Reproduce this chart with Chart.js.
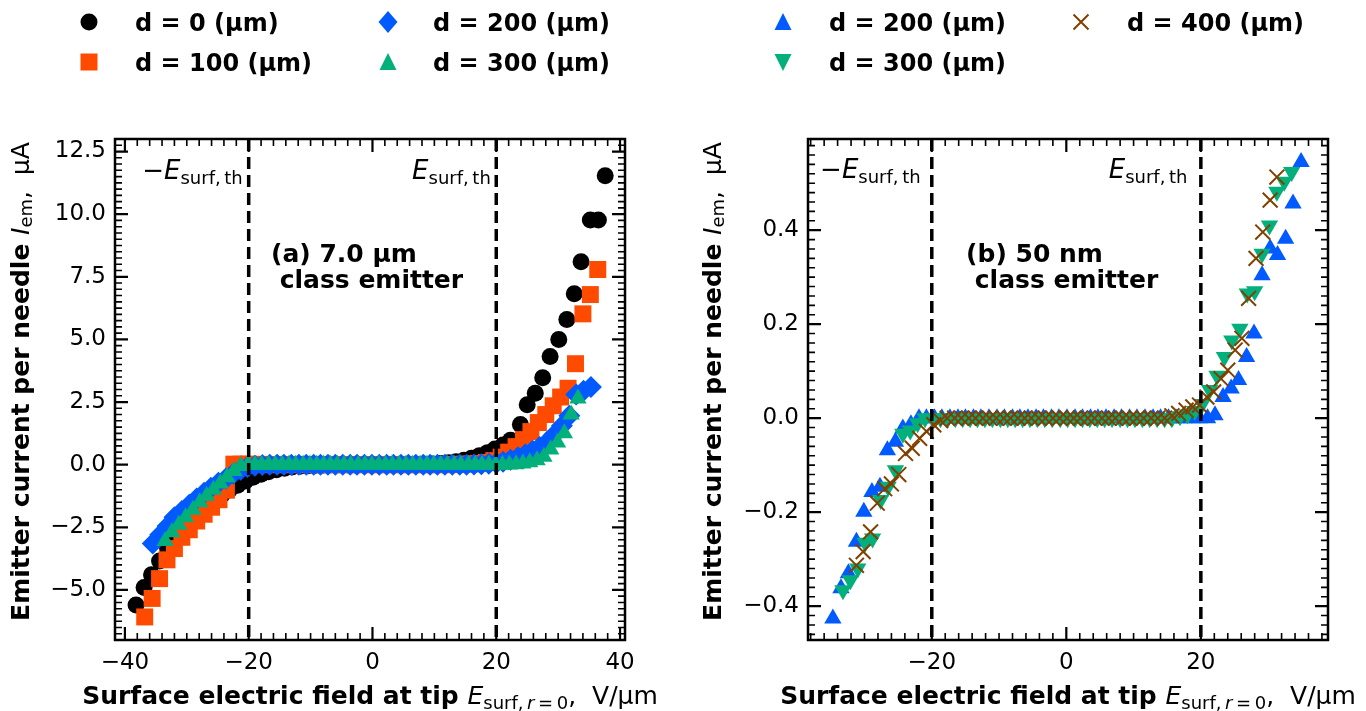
<!DOCTYPE html>
<html>
<head>
<meta charset="utf-8">
<script src="https://cdn.jsdelivr.net/npm/chart.js@4.4.0/dist/chart.umd.min.js"></script>
<style>
  html, body { margin: 0; padding: 0; background: #fff; }
  #wrap { position: relative; width: 1366px; height: 711px; overflow: hidden; }
  #wrap canvas { position: absolute; top: 0; }
  .mk { position: absolute; }
  .lt { position: absolute; font: bold 24px "DejaVu Sans"; white-space: nowrap; line-height: 1; transform: translateY(-50%); color: #000; }
</style>
</head>
<body>
<div id="wrap">
  <canvas id="left" width="683" height="711" style="left:0"></canvas>
  <canvas id="right" width="683" height="711" style="left:683px"></canvas>
  <div id="legend"></div>
</div>
<script>
// ---- axis ticks / reference lines ----
const xLeftTicks  = [-40, -20, 0, 20, 40];
const yLeftTicks  = [-5, -2.5, 0, 2.5, 5, 7.5, 10, 12.5];
const xRightTicks = [-20, 0, 20];
const yRightTicks = [-0.4, -0.2, 0, 0.2, 0.4];
const thresholds  = [-20, 20];

// ---- (a) 7.0 um class emitter ----
const d0X = [-38.2, -36.9, -35.7, -34.4, -33.1, -31.9, -30.6, -29.4, -28.1, -26.8,
  -25.6, -24.3, -23.1, -21.8, -20.5, -19.3, -18.0, -16.8, -15.5, -14.2,
  -13.0, -11.7, -10.4, -9.2, -7.9, -6.7, -5.4, -4.1, -2.9, -1.6,
  -0.4, 0.9, 2.2, 3.4, 4.7, 5.9, 7.2, 8.5, 9.7, 11.0,
  12.3, 13.5, 14.8, 16.0, 17.3, 18.6, 19.8, 21.1, 22.3, 23.9,
  25.0, 26.3, 27.5, 28.7, 30.1, 31.4, 32.6, 33.7, 35.2, 36.5, 37.6];
const d0Y = [-5.6, -4.9, -4.4, -3.85, -3.35, -2.95, -2.55, -2.2, -1.9, -1.65,
  -1.4, -1.2, -1.0, -0.82, -0.65, -0.5, -0.38, -0.28, -0.2, -0.14,
  -0.09, -0.06, -0.04, -0.02, -0.01, 0, 0, 0, 0, 0,
  0, 0, 0, 0, 0, 0, 0.01, 0.02, 0.03, 0.05,
  0.08, 0.12, 0.18, 0.26, 0.36, 0.48, 0.62, 0.78, 0.97, 1.6,
  2.39, 2.85, 3.47, 4.32, 5.0, 5.79, 6.82, 8.1, 9.77, 9.77, 11.53];

const d100X = [-36.8, -35.6, -34.4, -33.2, -32.0, -30.8, -29.6, -28.4, -27.2, -26.0,
  -24.8, -23.6, -22.4, -21.2, -20.0, -18.8, -17.6, -16.4, -15.2, -14.0,
  -12.8, -11.6, -10.4, -9.2, -8.0, -6.8, -5.6, -4.4, -3.2, -2.0,
  -0.8, 0.4, 1.6, 2.8, 4.0, 5.2, 6.4, 7.6, 8.8, 10.0,
  11.2, 12.4, 13.6, 14.8, 16.0, 17.2, 18.4, 19.6, 20.8, 22.0,
  23.2, 24.4, 25.6, 26.8, 28.0, 29.2, 30.4, 31.6, 32.8, 34.0, 35.2, 36.4];
const d100Y = [-6.08, -5.34, -4.55, -3.8, -3.35, -2.9, -2.6, -2.25, -1.98, -1.7,
  -1.4, -1.02, 0.02, 0.02, 0.02, 0.01, 0.01, 0, 0, 0,
  0, 0, 0, 0, 0, 0, 0, 0, 0, 0,
  0, 0, 0, 0, 0, 0, 0, 0, 0, 0,
  0, 0, 0.01, 0.02, 0.03, 0.05, 0.09, 0.16, 0.3, 0.5,
  0.72, 1.0, 1.32, 1.68, 2.0, 2.35, 2.7, 3.05, 4.03, 6.02, 6.79, 7.79];

const d200X = [-35.5, -34.3, -33.1, -32.0, -30.8, -29.6, -28.4, -27.2, -26.1, -24.9,
  -23.7, -22.5, -21.3, -20.2, -19.0, -17.8, -16.6, -15.4, -14.3, -13.1,
  -11.9, -10.7, -9.5, -8.4, -7.2, -6.0, -4.8, -3.6, -2.5, -1.3,
  -0.1, 1.1, 2.3, 3.4, 4.6, 5.8, 7.0, 8.2, 9.3, 10.5,
  11.7, 12.9, 14.1, 15.2, 16.4, 17.6, 18.8, 20.0, 21.1, 22.3,
  23.5, 24.7, 25.9, 27.0, 28.2, 29.4, 30.6, 31.8, 32.9, 34.1, 35.3];
const d200Y = [-3.15, -2.8, -2.45, -2.1, -1.85, -1.6, -1.35, -1.12, -0.92, -0.72,
  -0.55, -0.36, -0.2, -0.09, -0.04, -0.01, 0, 0, 0, 0,
  0, 0, 0, 0, 0, 0, 0, 0, 0, 0,
  0, 0, 0, 0, 0, 0, 0, 0, 0, 0,
  0, 0, 0, 0, 0.01, 0.02, 0.04, 0.07, 0.12, 0.2,
  0.3, 0.42, 0.55, 0.7, 0.9, 1.2, 1.55, 1.95, 2.8, 2.95, 3.1];

const d300X = [-33.5, -32.4, -31.3, -30.2, -29.0, -27.9, -26.8, -25.7, -24.6, -23.5,
  -22.4, -21.3, -20.1, -19.0, -17.9, -16.8, -15.7, -14.6, -13.5, -12.4,
  -11.2, -10.1, -9.0, -7.9, -6.8, -5.7, -4.6, -3.5, -2.3, -1.2,
  -0.1, 1.0, 2.1, 3.2, 4.3, 5.4, 6.5, 7.7, 8.8, 9.9,
  11.0, 12.1, 13.2, 14.3, 15.5, 16.6, 17.7, 18.8, 19.9, 21.0,
  22.1, 23.2, 24.3, 25.4, 26.6, 27.7, 28.8, 29.9, 31.0, 32.1, 33.2];
const d300Y = [-3.05, -2.7, -2.4, -2.1, -1.8, -1.5, -1.25, -1.0, -0.75, -0.5,
  -0.25, -0.05, 0, 0, 0, 0, 0, 0, 0, 0,
  0, 0, 0, 0, 0, 0, 0, 0, 0, 0,
  0, 0, 0, 0, 0, 0, 0, 0, 0, 0,
  0, 0, 0, 0, 0, 0, 0, 0, 0, 0,
  0.01, 0.02, 0.05, 0.1, 0.18, 0.32, 0.6, 0.88, 1.25, 2.0, 2.64];

// ---- (b) 50 nm class emitter ----
const b200X = [-34.7, -33.5, -32.4, -31.2, -30.1, -28.9, -27.7, -26.6, -25.4, -24.3,
  -23.1, -21.9, -20.8, -19.6, -18.5, -17.3, -16.1, -15.0, -13.8, -12.7,
  -11.5, -10.3, -9.2, -8.0, -6.9, -5.7, -4.5, -3.4, -2.2, -1.1,
  0.1, 1.3, 2.4, 3.6, 4.7, 5.9, 7.1, 8.2, 9.4, 10.5,
  11.7, 12.9, 14.0, 15.2, 16.3, 17.5, 18.7, 19.8, 21.0, 22.1,
  23.3, 24.5, 25.6, 26.8, 27.9, 29.1, 30.3, 31.4, 32.6, 33.7, 34.9];
const b200Y = [-0.426, -0.362, -0.33, -0.263, -0.199, -0.157, -0.146, -0.068, -0.05, -0.022,
  -0.013, 0, 0, 0, 0, 0, 0, 0, 0, 0,
  0, 0, 0, 0, 0, 0, 0, 0, 0, 0,
  0, 0, 0, 0, 0, 0, 0, 0, 0, 0,
  0, 0, 0, 0, 0, 0, 0, 0, 0, 0.006,
  0.045, 0.063, 0.081, 0.13, 0.18, 0.304, 0.361, 0.347, 0.382, 0.457, 0.545];

const b300X = [-33.2, -32.1, -31.0, -29.9, -28.8, -27.6, -26.5, -25.4, -24.3, -23.2,
  -22.1, -21.0, -19.9, -18.7, -17.6, -16.5, -15.4, -14.3, -13.2, -12.1,
  -11.0, -9.8, -8.7, -7.6, -6.5, -5.4, -4.3, -3.2, -2.1, -0.9,
  0.2, 1.3, 2.4, 3.5, 4.6, 5.7, 6.8, 8.0, 9.1, 10.2,
  11.3, 12.4, 13.5, 14.6, 15.7, 16.9, 18.0, 19.1, 20.2, 21.3,
  22.4, 23.5, 24.6, 25.8, 26.9, 28.0, 29.1, 30.2, 31.3, 32.4, 33.5];
const b300Y = [-0.366, -0.345, -0.32, -0.265, -0.256, -0.174, -0.146, -0.111, -0.033, -0.026,
  -0.011, 0, 0, 0, 0, 0, 0, 0, 0, 0,
  0, 0, 0, 0, 0, 0, 0, 0, 0, 0,
  0, 0, 0, 0, 0, 0, 0, 0, 0, 0,
  0, 0, 0, 0, 0, 0.004, 0.008, 0.015, 0.03, 0.06,
  0.09, 0.13, 0.165, 0.19, 0.265, 0.27, 0.35, 0.41, 0.482, 0.503, 0.524];

const b400X = [-31.2, -30.2, -29.1, -28.1, -27.0, -26.0, -24.9, -23.9, -22.9, -21.8,
  -20.8, -19.7, -18.7, -17.7, -16.6, -15.6, -14.5, -13.5, -12.4, -11.4,
  -10.4, -9.3, -8.3, -7.2, -6.2, -5.2, -4.1, -3.1, -2.0, -1.0,
  0.1, 1.1, 2.1, 3.2, 4.2, 5.3, 6.3, 7.3, 8.4, 9.4,
  10.5, 11.5, 12.6, 13.6, 14.6, 15.7, 16.7, 17.8, 18.8, 19.8,
  20.9, 21.9, 23.0, 24.0, 25.1, 26.1, 27.1, 28.2, 29.2, 30.3, 31.3];
const b400Y = [-0.313, -0.284, -0.242, -0.181, -0.15, -0.14, -0.12, -0.075, -0.064, -0.043,
  -0.028, -0.014, -0.005, 0, 0, 0, 0, 0, 0, 0,
  0, 0, 0, 0, 0, 0, 0, 0, 0, 0,
  0, 0, 0, 0, 0, 0, 0, 0, 0, 0,
  0, 0, 0, 0, 0, 0.005, 0.01, 0.017, 0.024, 0.028,
  0.045, 0.056, 0.084, 0.102, 0.145, 0.17, 0.255, 0.34, 0.396, 0.464, 0.513];

const FONT = '"DejaVu Sans"';
const BLACK = "#000000", RED = "#ff4b00", BLUE = "#005aff", GREEN = "#03af7a", BROWN = "#804000";

// marker looks, shared by plot and legend
const MARKS = {
  circle:  { pointStyle: "circle",   radius: 8.5, rot: 0 },
  square:  { pointStyle: "rect",     radius: 12, rot: 0 },
  diamond: { pointStyle: "rectRot",  radius: 11, rot: 0 },
  tri:     { pointStyle: "triangle", radius: 10, rot: 0 },
  triDown: { pointStyle: "triangle", radius: 10, rot: 180 },
  cross:   { pointStyle: "crossRot", radius: 10.5, rot: 0 },
};

const leftSeries = [
  { label: "d = 0 (\u00b5m)",   xs: d0X,   ys: d0Y,   mark: "circle",  color: BLACK, order: 3 },
  { label: "d = 100 (\u00b5m)", xs: d100X, ys: d100Y, mark: "square",  color: RED,   order: 2 },
  { label: "d = 200 (\u00b5m)", xs: d200X, ys: d200Y, mark: "diamond", color: BLUE,  order: 1 },
  { label: "d = 300 (\u00b5m)", xs: d300X, ys: d300Y, mark: "tri",     color: GREEN, order: 0 },
];
const rightSeries = [
  { label: "d = 200 (\u00b5m)", xs: b200X, ys: b200Y, mark: "tri",     color: BLUE,  order: 2 },
  { label: "d = 300 (\u00b5m)", xs: b300X, ys: b300Y, mark: "triDown", color: GREEN, order: 1 },
  { label: "d = 400 (\u00b5m)", xs: b400X, ys: b400Y, mark: "cross",   color: BROWN, order: 0 },
];

function toDataset(s) {
  const m = MARKS[s.mark];
  const isCross = s.mark === "cross";
  return {
    label: s.label,
    data: s.xs.map((x, i) => ({ x: x, y: s.ys[i] })),
    showLine: false,
    order: s.order,
    pointStyle: m.pointStyle,
    pointRadius: m.radius,
    pointRotation: m.rot,
    backgroundColor: s.color,
    borderColor: s.color,
    borderWidth: isCross ? 2 : 0,
  };
}

// ---- text helpers (mathtext-ish runs drawn on the canvas) ----
const f = (size, weight, style) => `${style || ""} ${weight || ""} ${size}px ${FONT}`.trim();

function runWidth(ctx, parts) {
  let w = 0;
  for (const p of parts) { ctx.font = p.f; w += ctx.measureText(p.t).width; }
  return w;
}
function drawRuns(ctx, parts, x, y, align, baseline) {
  ctx.textBaseline = baseline || "alphabetic";
  ctx.textAlign = "left";
  let cx = align === "center" ? x - runWidth(ctx, parts) / 2 : x;
  for (const p of parts) {
    ctx.font = p.f;
    ctx.fillText(p.t, cx, y + (p.dy || 0));
    cx += ctx.measureText(p.t).width;
  }
}

const xTitle = [
  { t: "Surface electric field at tip ", f: f(25, "bold") },
  { t: "E", f: f(25, "", "italic") },
  { t: "surf,\u2009", f: f(18), dy: 5 },
  { t: "r", f: f(18, "", "italic"), dy: 5 },
  { t: "\u2009=\u20090", f: f(18), dy: 5 },
  { t: ",  V/\u00b5m", f: f(25) },
];
const yTitle = [
  { t: "Emitter current per needle ", f: f(25, "bold") },
  { t: "I", f: f(25, "", "italic") },
  { t: "em", f: f(18), dy: 5 },
  { t: ",  \u00b5A", f: f(25) },
];
const negTh = [
  { t: "\u2212", f: f(26) },
  { t: "E", f: f(26, "", "italic") },
  { t: "surf,\u2009th", f: f(18), dy: 5 },
];
const posTh = [
  { t: "E", f: f(26, "", "italic") },
  { t: "surf,\u2009th", f: f(18), dy: 5 },
];

// per-panel decorations: minor tick steps, annotation anchors in data units
const PANEL = {
  left: {
    minorX: 2, minorY: 0.25,
    negAt: [-37.2, 11.42], posAt: [6.4, 11.42],
    caption: ["(a) 7.0 \u00b5m", " class emitter"], capAt: [-16.4, 8.08],
  },
  right: {
    minorX: 2, minorY: 0.02,
    negAt: [-36.6, 0.511], posAt: [6.3, 0.511],
    caption: ["(b) 50 nm", " class emitter"], capAt: [-14.9, 0.333],
  },
};

function tickLines(ctx, a, scale, vals, len, horizontal) {
  ctx.beginPath();
  for (const v of vals) {
    const p = scale.getPixelForValue(v);
    if (horizontal) {
      if (p < a.left - 0.5 || p > a.right + 0.5) continue;
      ctx.moveTo(p, a.bottom); ctx.lineTo(p, a.bottom - len);
      ctx.moveTo(p, a.top);    ctx.lineTo(p, a.top + len);
    } else {
      if (p < a.top - 0.5 || p > a.bottom + 0.5) continue;
      ctx.moveTo(a.left, p);  ctx.lineTo(a.left + len, p);
      ctx.moveTo(a.right, p); ctx.lineTo(a.right - len, p);
    }
  }
  ctx.stroke();
}
function minorValues(scale, step, majors) {
  const out = [];
  for (let k = Math.ceil(scale.min / step - 1e-9); k * step <= scale.max + 1e-9; k++) {
    const v = k * step;
    if (!majors.some(m => Math.abs(m - v) < step / 10)) out.push(v);
  }
  return out;
}

const decorPlugin = {
  id: "decor",
  afterDatasetsDraw(chart) {
    const { ctx, chartArea: a, scales: { x, y } } = chart;
    const P = PANEL[chart.canvas.id];
    ctx.save();
    ctx.strokeStyle = "#000";
    ctx.lineWidth = 3.5;
    ctx.setLineDash([12, 6]);
    for (const t of thresholds) {
      const px = x.getPixelForValue(t);
      ctx.beginPath(); ctx.moveTo(px, a.top); ctx.lineTo(px, a.bottom); ctx.stroke();
    }
    ctx.setLineDash([]);
    ctx.fillStyle = "#000";
    drawRuns(ctx, negTh, x.getPixelForValue(P.negAt[0]), y.getPixelForValue(P.negAt[1]));
    drawRuns(ctx, posTh, x.getPixelForValue(P.posAt[0]), y.getPixelForValue(P.posAt[1]));
    const cx = x.getPixelForValue(P.capAt[0]), cy = y.getPixelForValue(P.capAt[1]);
    ctx.font = f(25, "bold");
    ctx.textAlign = "left"; ctx.textBaseline = "alphabetic";
    P.caption.forEach((line, i) => ctx.fillText(line, cx, cy + i * 26));
    ctx.restore();
  },
  afterDraw(chart) {
    const { ctx, chartArea: a, scales: { x, y } } = chart;
    const P = PANEL[chart.canvas.id];
    const xMaj = x.ticks.map(t => t.value), yMaj = y.ticks.map(t => t.value);
    ctx.save();
    ctx.strokeStyle = "#000";
    ctx.lineWidth = 1.6;
    tickLines(ctx, a, x, minorValues(x, P.minorX, xMaj), 7, true);
    tickLines(ctx, a, y, minorValues(y, P.minorY, yMaj), 7, false);
    ctx.lineWidth = 2.2;
    tickLines(ctx, a, x, xMaj, 13, true);
    tickLines(ctx, a, y, yMaj, 13, false);
    ctx.lineWidth = 2.5;
    ctx.strokeRect(a.left, a.top, a.right - a.left, a.bottom - a.top);
    ctx.fillStyle = "#000";
    drawRuns(ctx, xTitle, (a.left + a.right) / 2, 704, "center");
    ctx.translate(chart.canvas.id === "left" ? 22 : 31, (a.top + a.bottom) / 2 - 8);
    ctx.rotate(-Math.PI / 2);
    drawRuns(ctx, yTitle, 0, 0, "center", "middle");
    ctx.restore();
  },
};

const fmt = dec => v => (v < 0 ? "\u2212" : "") + Math.abs(v).toFixed(dec);

function makePanel(canvas, series, cfg) {
  return new Chart(canvas, {
    type: "scatter",
    data: { datasets: series.map(toDataset) },
    plugins: [decorPlugin],
    options: {
      responsive: false,
      animation: false,
      devicePixelRatio: 1,
      events: [],
      layout: { padding: { left: 0, top: 139, right: cfg.padRight, bottom: 0 } },
      plugins: { legend: { display: false }, tooltip: { enabled: false } },
      scales: {
        x: {
          type: "linear", min: cfg.xMin, max: cfg.xMax,
          afterBuildTicks: s => { s.ticks = cfg.xTicks.map(v => ({ value: v })); },
          afterFit: s => { s.height = 71; },
          grid: { display: false, drawTicks: false },
          border: { display: false },
          ticks: { autoSkip: false, maxRotation: 0, padding: 9, color: "#000", font: { family: FONT, size: 23 }, callback: fmt(0) },
        },
        y: {
          type: "linear", min: cfg.yMin, max: cfg.yMax,
          afterBuildTicks: s => { s.ticks = cfg.yTicks.map(v => ({ value: v })); },
          afterFit: s => { s.width = cfg.yWidth; },
          grid: { display: false, drawTicks: false },
          border: { display: false },
          ticks: { autoSkip: false, padding: 9, color: "#000", font: { family: FONT, size: 23 }, callback: fmt(1) },
        },
      },
    },
  });
}

makePanel(document.getElementById("left"), leftSeries, {
  xMin: -41.6, xMax: 40.8, yMin: -7.0, yMax: 13.0,
  xTicks: xLeftTicks, yTicks: yLeftTicks, yWidth: 115, padRight: 58,
});
makePanel(document.getElementById("right"), rightSeries, {
  xMin: -38.4, xMax: 38.9, yMin: -0.472, yMax: 0.594,
  xTicks: xRightTicks, yTicks: yRightTicks, yWidth: 125, padRight: 38,
});

// ---- legend (HTML, markers as small SVGs) ----
function markerSvg(mark, color) {
  const w = 24, h = 24, c = 12;
  let body = "";
  if (mark === "circle") body = `<circle cx="${c}" cy="${c}" r="8.5" fill="${color}"/>`;
  else if (mark === "square") body = `<rect x="${c - 8.5}" y="${c - 8.5}" width="17" height="17" fill="${color}"/>`;
  else if (mark === "diamond") body = `<polygon points="${c},${c - 11} ${c + 9.5},${c} ${c},${c + 11} ${c - 9.5},${c}" fill="${color}"/>`;
  else if (mark === "tri") body = `<polygon points="${c},${c - 9} ${c + 8.5},${c + 8} ${c - 8.5},${c + 8}" fill="${color}"/>`;
  else if (mark === "triDown") body = `<polygon points="${c - 8.5},${c - 8} ${c + 8.5},${c - 8} ${c},${c + 9}" fill="${color}"/>`;
  else body = `<path d="M${c - 7.5},${c - 7.5}L${c + 7.5},${c + 7.5}M${c + 7.5},${c - 7.5}L${c - 7.5},${c + 7.5}" stroke="${color}" stroke-width="2"/>`;
  return `<svg width="${w}" height="${h}" viewBox="0 0 ${w} ${h}">${body}</svg>`;
}
const legendSlots = [
  [leftSeries[0], 89, 22, 135], [leftSeries[1], 89, 62, 135],
  [leftSeries[2], 388, 22, 433], [leftSeries[3], 388, 62, 433],
  [rightSeries[0], 783, 22, 829], [rightSeries[1], 783, 62, 829],
  [rightSeries[2], 1081, 22, 1127],
];
const legend = document.getElementById("legend");
for (const [s, mx, my, tx] of legendSlots) {
  const m = document.createElement("div");
  m.className = "mk";
  m.style.left = (mx - 12) + "px"; m.style.top = (my - 12) + "px";
  m.innerHTML = markerSvg(s.mark, s.color);
  legend.appendChild(m);
  const t = document.createElement("div");
  t.className = "lt";
  t.style.left = tx + "px"; t.style.top = (my + 1) + "px";
  t.textContent = s.label;
  legend.appendChild(t);
}
</script>
</body>
</html>
